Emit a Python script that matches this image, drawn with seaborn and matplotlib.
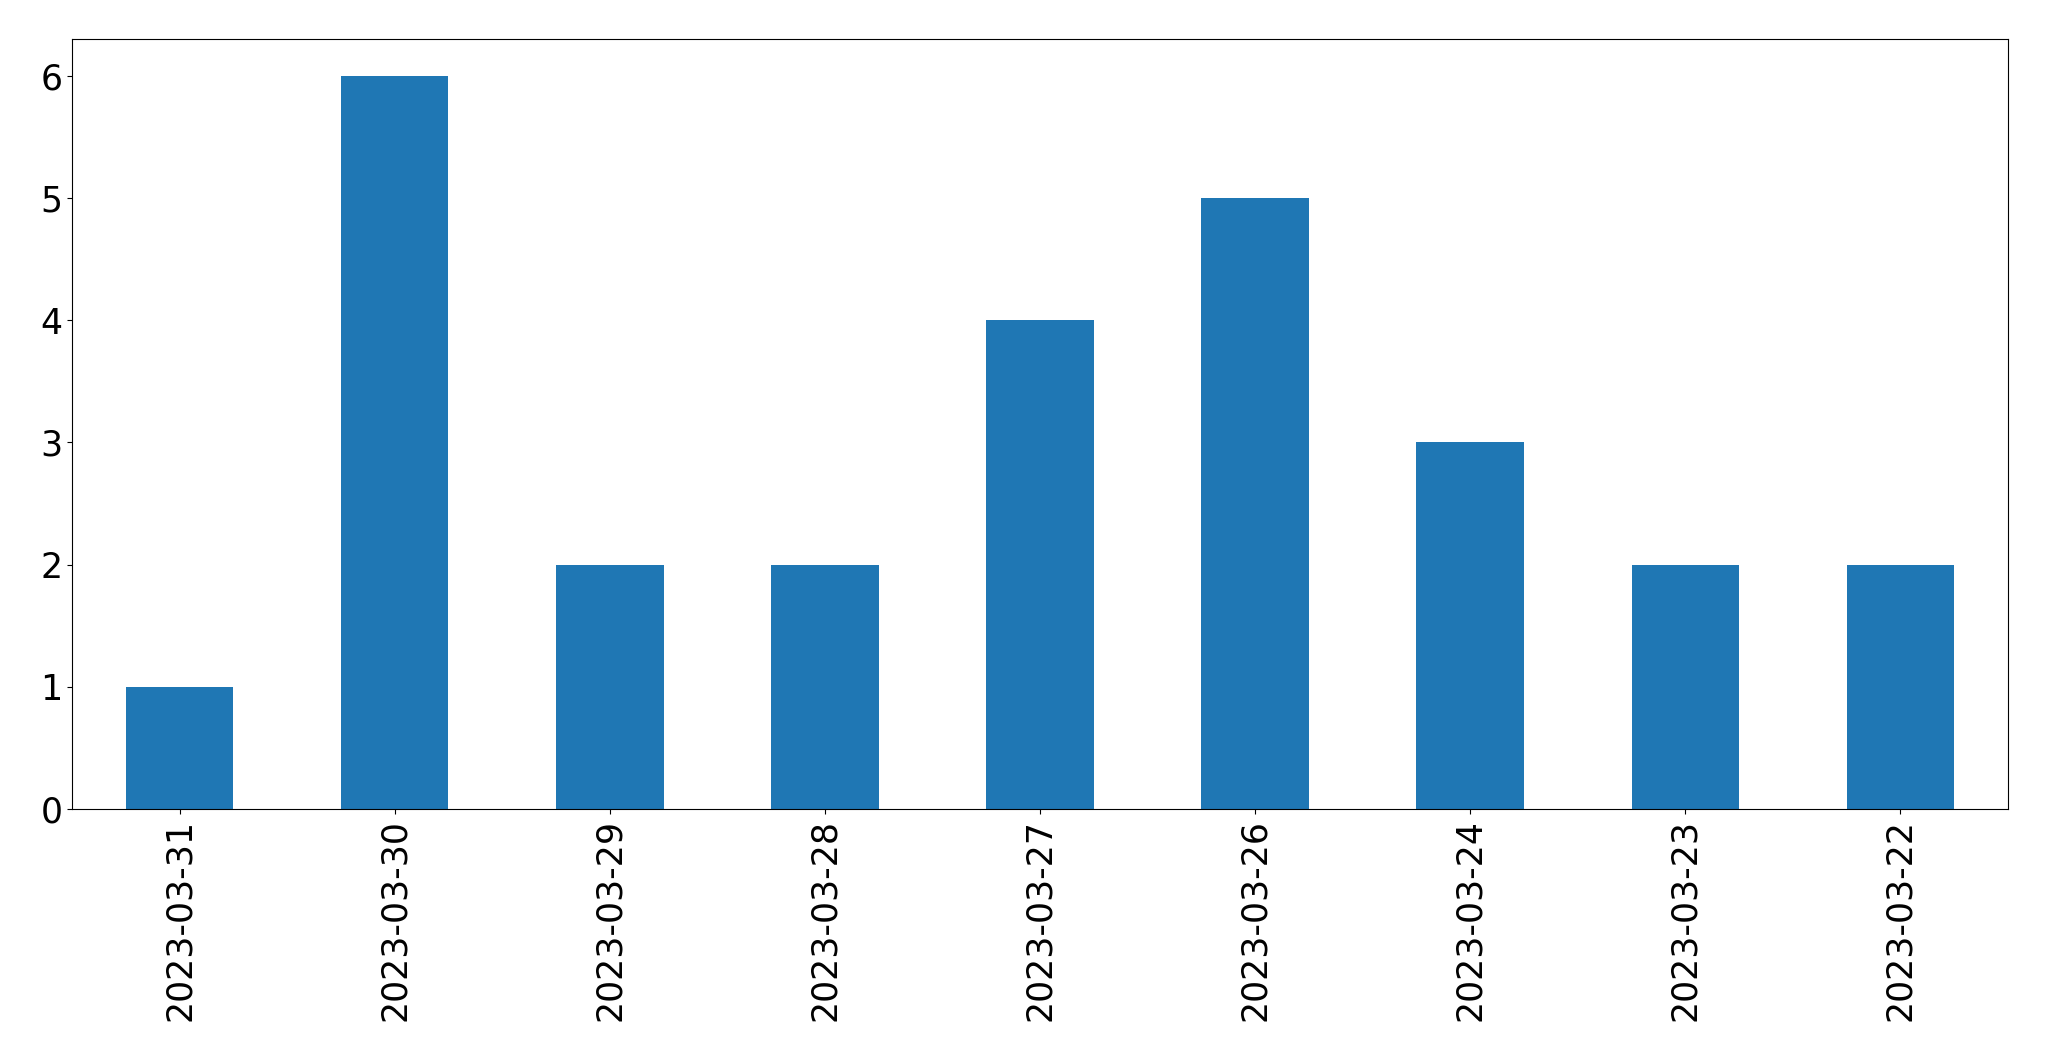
import matplotlib
matplotlib.use("Agg")
import matplotlib.pyplot as plt
import seaborn as sns
import pandas as pd

dates = ["2023-03-31", "2023-03-30", "2023-03-29", "2023-03-28", "2023-03-27",
         "2023-03-26", "2023-03-24", "2023-03-23", "2023-03-22"]
counts = [1, 6, 2, 2, 4, 5, 3, 2, 2]

df = pd.DataFrame({"date": dates, "count": counts})

fig = plt.figure(figsize=(20.49, 10.61), dpi=100)
ax = fig.add_axes([72 / 2049, 1 - 809 / 1061, (2008 - 72) / 2049, (809 - 39) / 1061])
sns.barplot(data=df, x="date", y="count", order=dates, color="#1f77b4",
            saturation=1, width=0.5, ax=ax, errorbar=None, linewidth=0)
ax.set_xlim(-0.5, len(dates) - 0.5)
ax.set_xlabel("")
ax.set_ylabel("")
ax.tick_params(axis="both", labelsize=25)
ax.tick_params(axis="x", labelrotation=90)
fig.savefig("out.png", dpi=100)
